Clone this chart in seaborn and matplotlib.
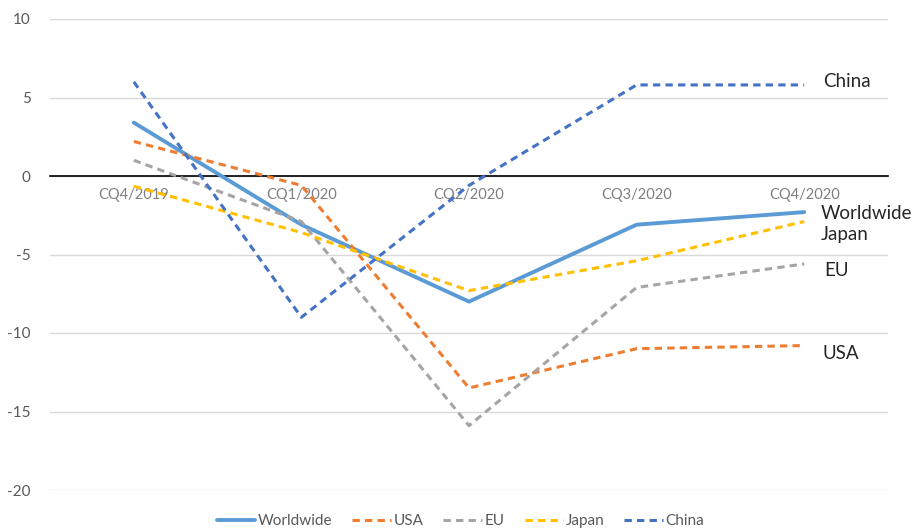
import matplotlib
matplotlib.use("Agg")
import matplotlib.pyplot as plt
import seaborn as sns
import pandas as pd

quarters = ["CQ4/2019", "CQ1/2020", "CQ2/2020", "CQ3/2020", "CQ4/2020"]
series_names = ["Worldwide", "USA", "EU", "Japan", "China"]
worldwide = [3.4, -3.1, -8.0, -3.1, -2.3]
usa = [2.2, -0.6, -13.5, -11.0, -10.8]
eu = [1.0, -2.9, -15.9, -7.1, -5.6]
japan = [-0.65, -3.6, -7.3, -5.4, -2.9]
china = [6.0, -9.0, -0.6, 5.8, 5.8]
y_ticks = [-20, -15, -10, -5, 0, 5, 10]

values = [worldwide, usa, eu, japan, china]
colors = ["#5B9BD5", "#ED7D31", "#A5A5A5", "#FFC000", "#4472C4"]

rows = []
for name, vals in zip(series_names, values):
    for i, v in enumerate(vals):
        rows.append({"series": name, "pos": i, "value": v})
df = pd.DataFrame(rows)

sns.set_theme(style="white")
plt.rcParams["font.family"] = ["Lato", "DejaVu Sans"]

fig = plt.figure(figsize=(9.17, 5.32), dpi=100)
ax = fig.add_axes([50 / 917, (532 - 490) / 532, (888 - 50) / 917, (490 - 19) / 532])

for name, color in zip(series_names, colors):
    sub = df[df["series"] == name]
    solid = name == "Worldwide"
    sns.lineplot(data=sub, x="pos", y="value", ax=ax, color=color,
                 linewidth=2.8 if solid else 2.2, label=name,
                 linestyle="-" if solid else (0, (2.4, 1.7)),
                 estimator=None, sort=False)

ax.set_xlim(-0.5, 4.5)
ax.set_ylim(-20, 10)
ax.set_yticks(y_ticks)
ax.set_yticklabels([str(t) for t in y_ticks], color="#595959", fontsize=11)
ax.yaxis.grid(True, color="#D9D9D9", linewidth=1)
ax.set_axisbelow(True)
ax.set_xlabel("")
ax.set_ylabel("")

for side in ["top", "right", "left"]:
    ax.spines[side].set_visible(False)
ax.spines["bottom"].set_position(("data", 0))
ax.spines["bottom"].set_color("black")
ax.spines["bottom"].set_linewidth(1.2)
ax.spines["bottom"].set_zorder(1)
ax.set_xticks(range(len(quarters)))
ax.set_xticklabels(quarters, color="#7F7F7F", fontsize=10.5)
ax.tick_params(axis="x", length=0, pad=9)
ax.tick_params(axis="y", length=0, pad=14)

# series names at the right end of the lines
end_labels = [("China", 4.11, 6.0), ("Worldwide", 4.10, -2.4),
              ("Japan", 4.10, -3.7), ("EU", 4.12, -6.0), ("USA", 4.11, -11.3)]
for text, x, y in end_labels:
    ax.text(x, y, text, fontsize=13.5, color="#262626", va="center", ha="left",
            clip_on=False)

leg = ax.legend(loc="center", bbox_to_anchor=(0.49, -31 / 471), ncol=5,
                frameon=False, fontsize=11, handlelength=2.5, handletextpad=0.2,
                columnspacing=1.3, borderpad=0, borderaxespad=0)
for t in leg.get_texts():
    t.set_color("#595959")

fig.savefig("out.png", dpi=100, facecolor="white")
